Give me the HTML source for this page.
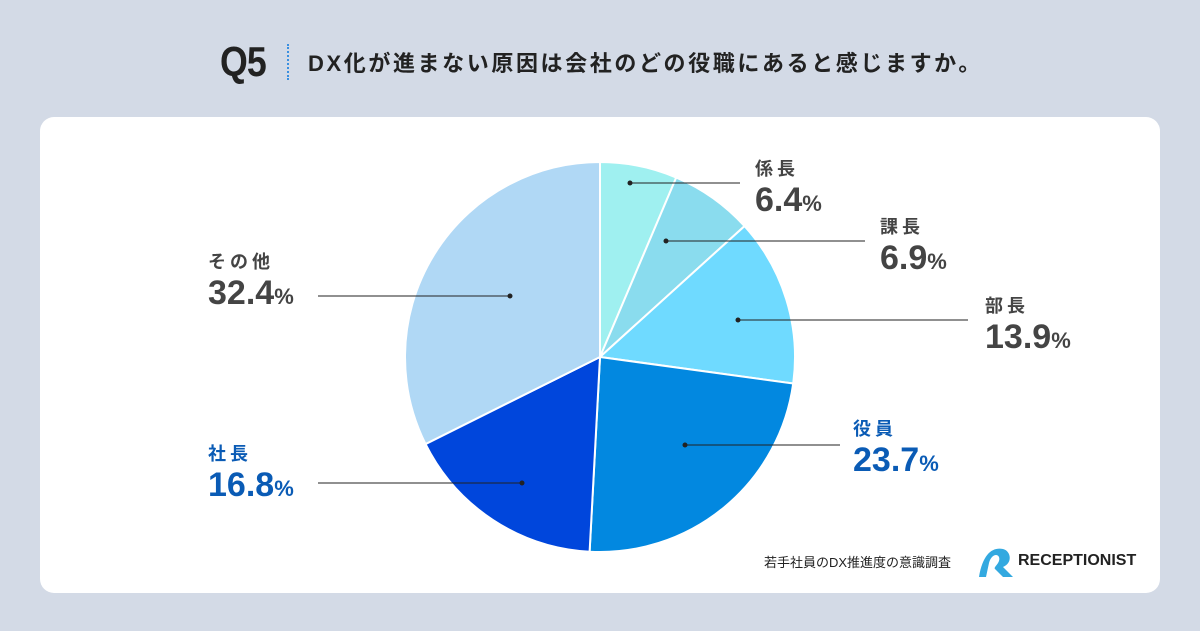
<!DOCTYPE html>
<html><head><meta charset="utf-8"><style>
body{margin:0;width:1200px;height:631px;background:#d3dae6;font-family:"Liberation Sans","Noto Sans CJK JP",sans-serif;position:relative;overflow:hidden}
.card{position:absolute;left:40px;top:117px;width:1120px;height:476px;background:#fff;border-radius:14px}
.t{position:absolute;white-space:nowrap}
</style></head><body>
<div class="t" style="left:220px;top:38px;font-size:42px;font-weight:bold;color:#222;letter-spacing:-1px;transform:scaleX(0.85);transform-origin:left">Q5</div>
<div style="position:absolute;left:287px;top:44px;height:36px;border-left:2px dotted #3a8fe0"></div>
<div class="t" style="left:308px;top:46px;font-size:22px;font-weight:bold;color:#222;letter-spacing:2.6px">DX化が進まない原因は会社のどの役職にあると感じますか。</div>
<div class="card"></div>
<svg id="pie" width="1200" height="631" style="position:absolute;left:0;top:0"></svg>
<div class="t" style="left:764px;top:552px;font-size:13px;color:#222">若手社員のDX推進度の意識調査</div>
<svg width="40" height="36" style="position:absolute;left:975px;top:543px"><path d="M4 34 C8 10 18 4 28 6 C36 8 38 20 28 24 L38 34 L28 34 L20 26 C18 24 26 20 24 14 C22 10 16 12 14 20 L11 34 Z" fill="#33a9e0"/></svg>
<div class="t" style="left:1018px;top:552px;font-size:16px;font-weight:bold;color:#222;letter-spacing:0px">RECEPTIONIST</div>
<script>
const categories=["係長","課長","部長","役員","社長","その他"];
const values=[6.4,6.9,13.9,23.7,16.8,32.4];
const valueLabels=["6.4","6.9","13.9","23.7","16.8","32.4"];
const colors=["#9ff0f0","#8adcee","#6fdaff","#0288e0","#0046dc","#b0d8f5"];
const cx=600,cy=357,R=195;
const svg=document.getElementById('pie');
const NS="http://www.w3.org/2000/svg";
const total=values.reduce((a,b)=>a+b,0);
function pt(a,r){return [cx+r*Math.sin(a),cy-r*Math.cos(a)];}
// [labelX, labelY, lineEndX, lineY, dotX, color]
const layout=[[755,155,740,183,630,'#444'],[880,213,865,241,666,'#444'],[985,292,968,320,738,'#444'],[853,415,840,445,685,'#0a5bb5'],[208,440,318,483,522,'#0a5bb5'],[208,248,318,296,510,'#444']];
let acc=0;
values.forEach((v,i)=>{
  const a0=acc/total*2*Math.PI; acc+=v; const a1=acc/total*2*Math.PI;
  const p0=pt(a0,R),p1=pt(a1,R);
  const path=document.createElementNS(NS,'path');
  path.setAttribute('d',`M${cx},${cy}L${p0[0]},${p0[1]}A${R},${R} 0 ${a1-a0>Math.PI?1:0} 1 ${p1[0]},${p1[1]}Z`);
  path.setAttribute('fill',colors[i]);path.setAttribute('stroke','#fff');path.setAttribute('stroke-width','2');
  
  
  svg.appendChild(path);
});
values.forEach((v,i)=>{
  const L=layout[i];
  const ly=L[3];
  const line=document.createElementNS(NS,'line');
  line.setAttribute('x1',L[4]);line.setAttribute('y1',ly);line.setAttribute('x2',L[2]);line.setAttribute('y2',ly);
  line.setAttribute('stroke','#222');line.setAttribute('stroke-width','1');
  
  
  svg.appendChild(line);
  const c=document.createElementNS(NS,'circle');
  c.setAttribute('cx',L[4]);c.setAttribute('cy',ly);c.setAttribute('r','2.5');c.setAttribute('fill','#222');
  
  
  svg.appendChild(c);
  const div=document.createElement('div');
  div.className='t';
  
  
  div.style.left=L[0]+'px';div.style.top=L[1]+'px';div.style.color=L[5];
  div.innerHTML=`<div style="font-size:18px;font-weight:bold;letter-spacing:4px">${categories[i]}</div><div style="font-size:34px;font-weight:bold;line-height:38px">${valueLabels[i]}<span style="font-size:22px">%</span></div>`;
  document.body.appendChild(div);
});
</script>
</body></html>
